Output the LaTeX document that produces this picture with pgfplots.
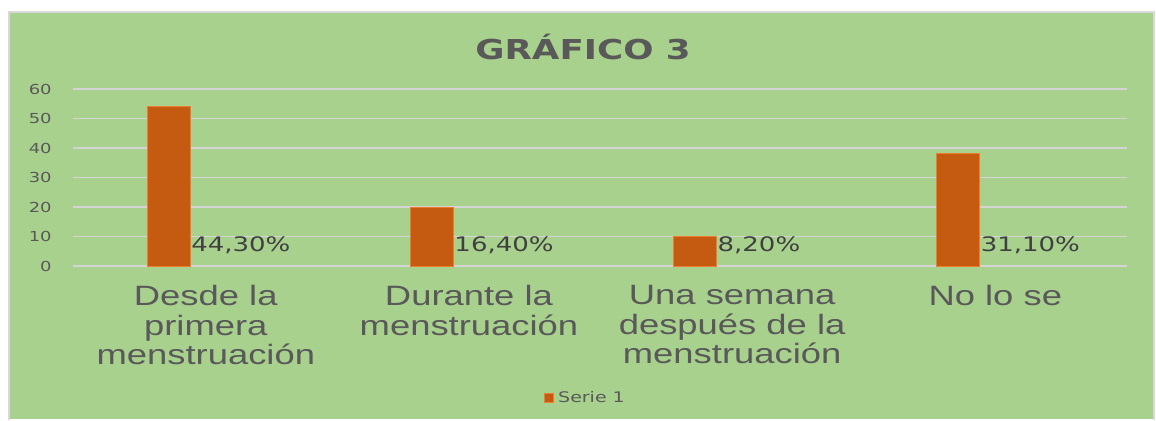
\documentclass[border=0pt]{standalone}
\usepackage{fontspec}
\usepackage{pgfplots}
\pgfplotsset{compat=1.18}
\setmainfont{DejaVu Sans}[FakeStretch=1.3]
\newfontfamily\catfont{Liberation Sans}[FakeStretch=1.3]
\definecolor{panel}{HTML}{A9D18E}
\definecolor{barc}{HTML}{C55A11}
\definecolor{barb}{HTML}{ED7D31}
\definecolor{gridc}{HTML}{D4D4D4}
\definecolor{txt}{HTML}{595959}
\definecolor{lbl}{HTML}{404040}
\definecolor{border}{HTML}{D9D9D9}
\begin{document}
\begin{tikzpicture}
% page and chart panel (1px = 0.5pt; axis lower-left at px (73,266))
\fill[white] (-36.5pt,-76.5pt) rectangle (541.5pt,133pt);
\fill[panel] (-32pt,-76.5pt) rectangle (540.5pt,127pt);
\draw[border, line width=0.75pt] (-32pt,-77pt) -- (-32pt,127pt) -- (540.5pt,127pt) -- (540.5pt,-77pt);
\node[font=\bfseries\fontsize{13.7}{16}\selectfont, text=txt] at (255pt,109.5pt) {GRÁFICO 3};
\begin{axis}[
  at={(0pt,0pt)}, anchor=south west,
  scale only axis, width=527pt, height=88.5pt,
  xmin=-0.364, xmax=3.641, ymin=0, ymax=60,
  ytick={0,10,...,60},
  xtick={0,1,2,3},
  xticklabels={{Desde la\\primera\\menstruación},{Durante la\\menstruación},{Una semana\\después de la\\menstruación},{No lo se}},
  axis line style={draw=none},
  major tick length=0pt,
  ymajorgrids, grid style={draw=gridc, line width=0.75pt},
  /pgf/number format/assume math mode=true,
  yticklabel style={font=\fontsize{6.9}{8}\selectfont, text=txt, inner sep=0pt, xshift=-10.5pt},
  xticklabel style={font=\catfont\fontsize{14}{14.75}\selectfont, text=txt, align=center, inner sep=0pt, yshift=-9.5pt, xshift=18.5pt, anchor=north},
  ybar, bar width=21.5pt,
  legend style={at={(0.487,-0.746)}, anchor=center, draw=none, fill=none, font=\fontsize{7.3}{8}\selectfont, text=txt},
  legend image code/.code={\fill[barc, draw=barb, line width=0.4pt] (0pt,-2.4pt) rectangle (4.8pt,2.4pt);},
  clip=false,
]
\addplot[fill=barc, draw=barb, line width=0.5pt] coordinates {(0,54) (1,20) (2,10) (3,38)};
\addlegendentry{Serie 1}
\node[anchor=base west, inner sep=0pt, font=\fontsize{10}{12}\selectfont, text=lbl] at (axis cs:0.084,4.85) {44,30\%};
\node[anchor=base west, inner sep=0pt, font=\fontsize{10}{12}\selectfont, text=lbl] at (axis cs:1.084,4.85) {16,40\%};
\node[anchor=base west, inner sep=0pt, font=\fontsize{10}{12}\selectfont, text=lbl] at (axis cs:2.084,4.85) {8,20\%};
\node[anchor=base west, inner sep=0pt, font=\fontsize{10}{12}\selectfont, text=lbl] at (axis cs:3.084,4.85) {31,10\%};
\end{axis}
\end{tikzpicture}
\end{document}
